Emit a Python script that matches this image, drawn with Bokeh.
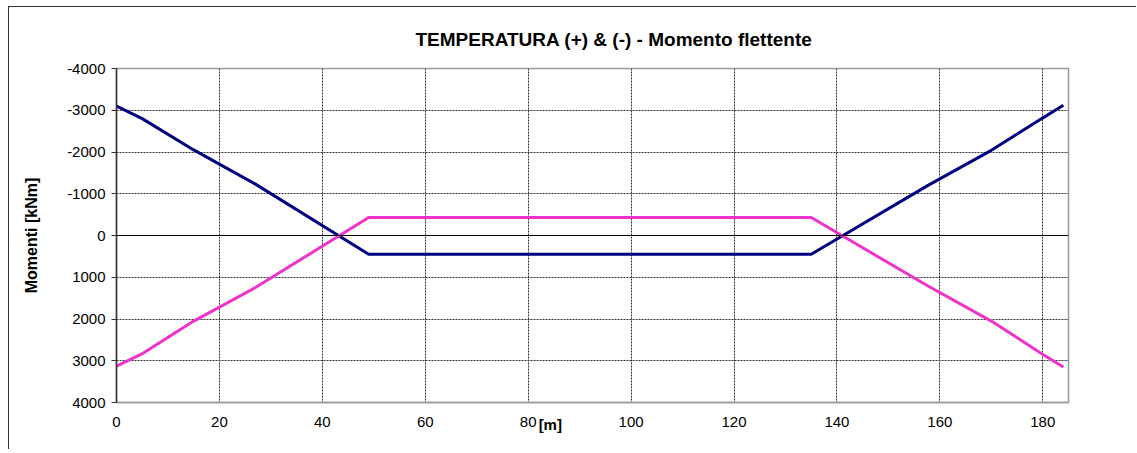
from bokeh.plotting import figure
from bokeh.models import Range1d, Span, LinearAxis, FixedTicker, ColumnDataSource
from bokeh.embed import file_html
from bokeh.resources import INLINE

# Data
x_m = [0, 5, 15, 27, 49, 135, 157.7, 170, 179.8, 184]
momento_neg = [-3100, -2800, -2050, -1230, 450, 450, -1200, -2040, -2800, -3120]
momento_pos = [3130, 2830, 2050, 1245, -430, -430, 1210, 2050, 2830, 3150]

x_ticks = [0, 20, 40, 60, 80, 100, 120, 140, 160, 180]
y_ticks = [-4000, -3000, -2000, -1000, 0, 1000, 2000, 3000, 4000]
x_unit_pos = 84.3
x_unit_label = "[m]"

src = ColumnDataSource(dict(x=x_m, neg=momento_neg, pos=momento_pos))

p = figure(width=1128, height=443, output_backend="svg", toolbar_location=None,
           x_range=Range1d(0, 185), y_range=Range1d(4000, -4000),
           min_border_left=107, min_border_right=69, min_border_top=61, min_border_bottom=48)
p.styles = {"border-left": "1px solid #333", "border-top": "1px solid #333",
            "margin-left": "8px", "margin-top": "6px"}

p.title.text = "TEMPERATURA (+) & (-)  - Momento flettente"
p.title.align = "left"
p.title.offset = 299
p.title.text_font = "Liberation Sans"
p.title.text_font_size = "19px"
p.title.text_font_style = "bold"
p.title.text_color = "#000000"
p.title.standoff = 36
p.title.vertical_align = "middle"

p.outline_line_color = "#9a9a9a"
p.outline_line_width = 1.5

for ax in (p.xaxis[0], p.yaxis[0]):
    ax.major_label_text_font = "Liberation Sans"
    ax.major_label_text_font_size = "15px"
    ax.major_label_text_color = "#000000"
    ax.minor_tick_line_color = None

p.xaxis.ticker = FixedTicker(ticks=x_ticks)
p.yaxis.ticker = FixedTicker(ticks=y_ticks)
p.yaxis.major_label_overrides = {v: str(v) for v in y_ticks}
p.xaxis.major_tick_line_color = None
p.xaxis.axis_line_color = "#9a9a9a"
p.xaxis.axis_line_width = 1.5
p.xaxis.major_label_standoff = 8
p.yaxis.axis_line_color = "#333333"
p.yaxis.axis_line_width = 1.5
p.yaxis.major_tick_line_color = "#333333"
p.yaxis.major_tick_out = 5
p.yaxis.major_tick_in = 0
p.yaxis.major_label_standoff = 6

p.yaxis.axis_label = "Momenti [kNm]"
p.yaxis.axis_label_text_font = "Liberation Sans"
p.yaxis.axis_label_text_font_size = "16px"
p.yaxis.axis_label_text_font_style = "bold"
p.yaxis.axis_label_text_color = "#000000"
p.yaxis.axis_label_standoff = 24

# unit label "[m]" next to the 80 tick, drawn as a second (line-less) x axis
unit_axis = LinearAxis(ticker=FixedTicker(ticks=[x_unit_pos]),
                       major_label_overrides={x_unit_pos: x_unit_label},
                       axis_line_color=None, major_tick_line_color=None,
                       minor_tick_line_color=None,
                       major_label_standoff=-20,
                       major_label_text_font="Liberation Sans",
                       major_label_text_font_size="15px",
                       major_label_text_font_style="bold",
                       major_label_text_color="#000000")
p.add_layout(unit_axis, "below")

p.xgrid.ticker = FixedTicker(ticks=x_ticks)
p.ygrid.ticker = FixedTicker(ticks=y_ticks)
for g in (p.xgrid[0], p.ygrid[0]):
    g.grid_line_color = "#333333"
    g.grid_line_dash = "2 1"
    g.grid_line_width = 1

p.add_layout(Span(location=0, dimension="width", line_color="#000000", line_width=1))

p.line("x", "neg", source=src, line_color="#000080", line_width=3)
p.line("x", "pos", source=src, line_color="#EE33CC", line_width=3)

open("out.html", "w").write(file_html(p, INLINE))
